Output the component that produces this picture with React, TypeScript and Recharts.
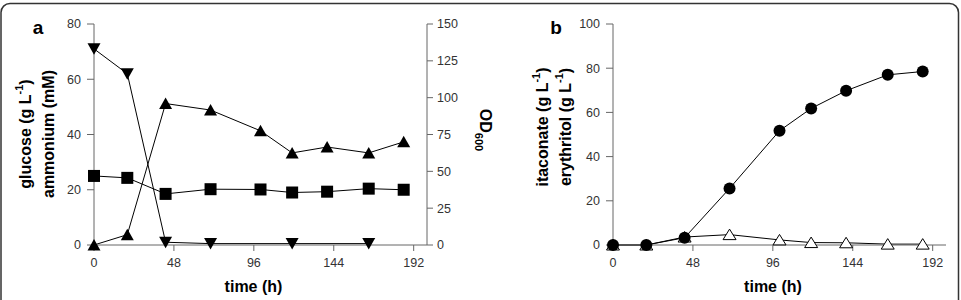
import React from 'react';
import { LineChart, Line, XAxis, YAxis, Label } from 'recharts';

// Sampling times (h)
const hours = [0, 20, 43, 70, 100, 119, 140, 165, 186];

// Panel a: medium components and growth
const glucose = [25, 24.3, 18.5, 20.2, 20.1, 19, 19.3, 20.4, 20];
const ammonium = [71, 62, 1, 0.5, null, 0.5, null, 0.5, null];
const od600 = [0, 7, 96, 91.6, 77.5, 62.5, 66.5, 62.5, 70];

// Panel b: products
const itaconate = [0, 0, 3.3, 25.6, 51.7, 61.8, 69.8, 77, 78.5];
const erythritol = [0, 0, 3.6, 4.7, 2.3, 1.1, 1, 0.4, 0.4];

// Axis ticks
const timeTicks = [0, 48, 96, 144, 192];
const concTicks = [0, 20, 40, 60, 80];
const odTicks = [0, 25, 50, 75, 100, 125, 150];
const productTicks = [0, 20, 40, 60, 80, 100];

const rowsA = hours.map((t, i) => ({
  t,
  glucose: glucose[i],
  ammonium: ammonium[i],
  od600: od600[i],
}));

const rowsB = hours.map((t, i) => ({
  t,
  itaconate: itaconate[i],
  erythritol: erythritol[i],
}));

const FONT = '"Liberation Sans", Arial, Helvetica, sans-serif';
const AXIS_COLOR = '#666';
const TICK_STYLE = { fill: '#333', fontSize: 12.5, fontFamily: FONT };
const TITLE_STYLE = { fontFamily: FONT, fontSize: 16, fontWeight: 700, fill: '#000' };

type DotProps = { cx?: number; cy?: number; value?: any; index?: number };

const valid = (p: DotProps) =>
  p.cx != null && p.cy != null && p.value != null && !Number.isNaN(p.cx) && !Number.isNaN(p.cy);

const squareDot = (p: DotProps) =>
  valid(p) ? (
    <rect key={`sq-${p.index}`} x={p.cx! - 6} y={p.cy! - 6} width={12} height={12} fill="#000" />
  ) : (
    <g key={`sq-${p.index}`} />
  );

const downTriangleDot = (p: DotProps) =>
  valid(p) ? (
    <polygon
      key={`dn-${p.index}`}
      points={`${p.cx! - 6.5},${p.cy! - 5.5} ${p.cx! + 6.5},${p.cy! - 5.5} ${p.cx!},${p.cy! + 6}`}
      fill="#000"
    />
  ) : (
    <g key={`dn-${p.index}`} />
  );

const upTriangleDot = (p: DotProps) =>
  valid(p) ? (
    <polygon
      key={`up-${p.index}`}
      points={`${p.cx!},${p.cy! - 6} ${p.cx! + 6.5},${p.cy! + 5.5} ${p.cx! - 6.5},${p.cy! + 5.5}`}
      fill="#000"
    />
  ) : (
    <g key={`up-${p.index}`} />
  );

const openTriangleDot = (p: DotProps) =>
  valid(p) ? (
    <polygon
      key={`op-${p.index}`}
      points={`${p.cx!},${p.cy! - 5.5} ${p.cx! + 6.5},${p.cy! + 5} ${p.cx! - 6.5},${p.cy! + 5}`}
      fill="#fff"
      stroke="#000"
      strokeWidth={1}
    />
  ) : (
    <g key={`op-${p.index}`} />
  );

const circleDot = (p: DotProps) =>
  valid(p) ? (
    <circle key={`ci-${p.index}`} cx={p.cx} cy={p.cy} r={6} fill="#000" />
  ) : (
    <g key={`ci-${p.index}`} />
  );

// Vertical axis title (rotated counter-clockwise), optional superscript "-1"
const verticalTitle = (x: number, cy: number, text: string, withPower: boolean) => (
  <text
    x={x}
    y={cy}
    transform={`rotate(-90 ${x} ${cy})`}
    textAnchor="middle"
    dominantBaseline="central"
    style={TITLE_STYLE}
  >
    {text}
    {withPower ? (
      <>
        <tspan fontSize={11} dy={-6}>-1</tspan>
        <tspan dy={6}>)</tspan>
      </>
    ) : null}
  </text>
);

const concTitle = () => (
  <g>
    {verticalTitle(25, 134, 'glucose (g L', true)}
    {verticalTitle(48, 134, 'ammonium (mM)', false)}
  </g>
);

const productTitle = () => (
  <g>
    {verticalTitle(62, 127, 'itaconate (g L', true)}
    {verticalTitle(85, 127, 'erythritol (g L', true)}
  </g>
);

const timeTitle = (cx: number) => () => (
  <text x={cx} y={292} textAnchor="middle" style={TITLE_STYLE}>
    time (h)
  </text>
);

const odTitle = () => (
  <text x={480} y={130} transform="rotate(90 480 130)" textAnchor="middle" style={TITLE_STYLE}>
    OD
    <tspan fontSize={11} dy={5}>600</tspan>
  </text>
);

export default function App() {
  return (
    <div style={{ position: 'absolute', left: 0, top: 0, width: 961, height: 300, background: '#fff', overflow: 'hidden' }}>
      {/* Panel a */}
      <div style={{ position: 'absolute', left: 0, top: 0 }}>
        <LineChart width={500} height={300} data={rowsA} margin={{ top: 24, right: 20, bottom: 0, left: 0 }}>
          <XAxis
            dataKey="t"
            type="number"
            domain={[0, 200]}
            ticks={timeTicks}
            interval={0}
            height={55}
            tickSize={6}
            tickMargin={7}
            tick={TICK_STYLE}
            axisLine={{ stroke: AXIS_COLOR }}
            tickLine={{ stroke: AXIS_COLOR }}
          >
            <Label content={timeTitle(253.5)} />
          </XAxis>
          <YAxis
            yAxisId="conc"
            domain={[0, 80]}
            ticks={concTicks}
            interval={0}
            width={94}
            tickSize={7}
            tickMargin={6}
            tick={TICK_STYLE}
            axisLine={{ stroke: AXIS_COLOR }}
            tickLine={{ stroke: AXIS_COLOR }}
          >
            <Label content={concTitle} />
          </YAxis>
          <YAxis
            yAxisId="od"
            orientation="right"
            domain={[0, 150]}
            ticks={odTicks}
            interval={0}
            width={53}
            tickSize={6}
            tickMargin={4}
            tick={TICK_STYLE}
            axisLine={{ stroke: AXIS_COLOR }}
            tickLine={{ stroke: AXIS_COLOR }}
          >
            <Label content={odTitle} />
          </YAxis>
          <Line
            yAxisId="conc"
            dataKey="glucose"
            type="linear"
            stroke="#000"
            strokeWidth={1}
            dot={squareDot}
            activeDot={false}
            isAnimationActive={false}
          />
          <Line
            yAxisId="conc"
            dataKey="ammonium"
            type="linear"
            stroke="#000"
            strokeWidth={1}
            connectNulls
            dot={downTriangleDot}
            activeDot={false}
            isAnimationActive={false}
          />
          <Line
            yAxisId="od"
            dataKey="od600"
            type="linear"
            stroke="#000"
            strokeWidth={1}
            dot={upTriangleDot}
            activeDot={false}
            isAnimationActive={false}
          />
        </LineChart>
      </div>

      {/* Panel b */}
      <div style={{ position: 'absolute', left: 480, top: 0 }}>
        <LineChart width={481} height={300} data={rowsB} margin={{ top: 24, right: 15, bottom: 0, left: 0 }}>
          <XAxis
            dataKey="t"
            type="number"
            domain={[0, 200]}
            ticks={timeTicks}
            interval={0}
            height={55}
            tickSize={6}
            tickMargin={7}
            tick={TICK_STYLE}
            axisLine={{ stroke: AXIS_COLOR }}
            tickLine={{ stroke: AXIS_COLOR }}
          >
            <Label content={timeTitle(293)} />
          </XAxis>
          <YAxis
            domain={[0, 100]}
            ticks={productTicks}
            interval={0}
            width={133}
            tickSize={7}
            tickMargin={6}
            tick={TICK_STYLE}
            axisLine={{ stroke: AXIS_COLOR }}
            tickLine={{ stroke: AXIS_COLOR }}
          >
            <Label content={productTitle} />
          </YAxis>
          <Line
            dataKey="erythritol"
            type="linear"
            stroke="#000"
            strokeWidth={1}
            dot={openTriangleDot}
            activeDot={false}
            isAnimationActive={false}
          />
          <Line
            dataKey="itaconate"
            type="linear"
            stroke="#000"
            strokeWidth={1}
            dot={circleDot}
            activeDot={false}
            isAnimationActive={false}
          />
        </LineChart>
      </div>

      {/* Frame and panel letters */}
      <svg width={961} height={300} style={{ position: 'absolute', left: 0, top: 0, pointerEvents: 'none' }}>
        <rect x={1} y={3.5} width={957.5} height={330} rx={9} fill="none" stroke="#333" strokeWidth={1.5} />
        <text x={38} y={34} textAnchor="middle" style={{ ...TITLE_STYLE, fontSize: 19 }}>a</text>
        <text x={556} y={34} textAnchor="middle" style={{ ...TITLE_STYLE, fontSize: 19 }}>b</text>
      </svg>
    </div>
  );
}
